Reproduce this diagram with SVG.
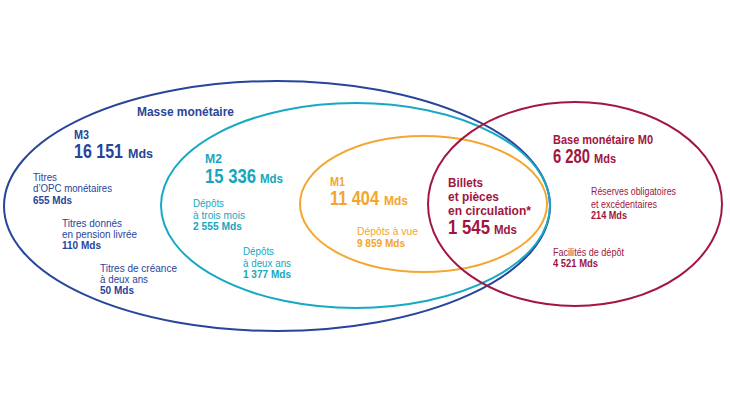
<svg xmlns="http://www.w3.org/2000/svg" width="730" height="410" viewBox="0 0 730 410">
<style>
text{font-family:"Liberation Sans",Arial,sans-serif;font-size:10px}
.b{font-weight:bold}
.h{font-size:13px;font-weight:bold}
.big{font-size:19.5px;font-weight:bold}
.md{font-size:12.5px;font-weight:bold}
.ring{fill:none;stroke-width:2}
.blue{fill:#27459b}.cyan{fill:#17a6c0}.orange{fill:#f4a52a}.red{fill:#a0163f}
</style>
<rect width="730" height="410" fill="#fff"/>
<g id="m3">
<ellipse class="ring" cx="277" cy="206" rx="273" ry="125" stroke="#27459b"/>
<g class="blue">
<text class="h" x="137" y="116" textLength="97" lengthAdjust="spacingAndGlyphs">Masse monétaire</text>
<text class="h" x="74" y="139" textLength="15" lengthAdjust="spacingAndGlyphs">M3</text>
<text class="big" x="74" y="158" textLength="49" lengthAdjust="spacingAndGlyphs">16 151</text>
<text class="md" x="128" y="158" textLength="25" lengthAdjust="spacingAndGlyphs">Mds</text>
<text x="33" y="181" textLength="24" lengthAdjust="spacingAndGlyphs">Titres</text>
<text x="33" y="192" textLength="79" lengthAdjust="spacingAndGlyphs">d’OPC monétaires</text>
<text class="b" x="33" y="204" textLength="39" lengthAdjust="spacingAndGlyphs">655 Mds</text>
<text x="62" y="227" textLength="60" lengthAdjust="spacingAndGlyphs">Titres donnés</text>
<text x="62" y="238" textLength="75" lengthAdjust="spacingAndGlyphs">en pension livrée</text>
<text class="b" x="62" y="249" textLength="39" lengthAdjust="spacingAndGlyphs">110 Mds</text>
<text x="100" y="272" textLength="77" lengthAdjust="spacingAndGlyphs">Titres de créance</text>
<text x="100" y="283" textLength="48" lengthAdjust="spacingAndGlyphs">à deux ans</text>
<text class="b" x="100" y="294" textLength="34" lengthAdjust="spacingAndGlyphs">50 Mds</text>
</g>
</g>
<g id="m2">
<ellipse class="ring" cx="355.5" cy="205.5" rx="194.5" ry="102.5" stroke="#17a9c3"/>
<g class="cyan">
<text class="h" x="205" y="163" textLength="17" lengthAdjust="spacingAndGlyphs">M2</text>
<text class="big" x="205" y="183" textLength="51" lengthAdjust="spacingAndGlyphs">15 336</text>
<text class="md" x="260" y="183" textLength="23" lengthAdjust="spacingAndGlyphs">Mds</text>
<text x="193" y="207" textLength="31" lengthAdjust="spacingAndGlyphs">Dépôts</text>
<text x="193" y="219" textLength="52" lengthAdjust="spacingAndGlyphs">à trois mois</text>
<text class="b" x="193" y="230" textLength="49" lengthAdjust="spacingAndGlyphs">2 555 Mds</text>
<text x="243" y="255" textLength="31" lengthAdjust="spacingAndGlyphs">Dépôts</text>
<text x="243" y="267" textLength="48" lengthAdjust="spacingAndGlyphs">à deux ans</text>
<text class="b" x="243" y="278" textLength="48" lengthAdjust="spacingAndGlyphs">1 377 Mds</text>
</g>
</g>
<g id="m1">
<ellipse class="ring" cx="423.5" cy="204" rx="123.5" ry="68" stroke="#f5a630"/>
<g class="orange">
<text class="h" x="330" y="186" textLength="15" lengthAdjust="spacingAndGlyphs">M1</text>
<text class="big" x="330" y="205" textLength="49" lengthAdjust="spacingAndGlyphs">11 404</text>
<text class="md" x="384" y="205" textLength="24" lengthAdjust="spacingAndGlyphs">Mds</text>
<text x="357" y="235" textLength="61" lengthAdjust="spacingAndGlyphs">Dépôts à vue</text>
<text class="b" x="357" y="247" textLength="48" lengthAdjust="spacingAndGlyphs">9 859 Mds</text>
</g>
</g>
<g id="m0">
<ellipse class="ring" cx="575" cy="204" rx="147" ry="102" stroke="#a3173f"/>
<g class="red">
<text class="md" x="448" y="187" textLength="35" lengthAdjust="spacingAndGlyphs">Billets</text>
<text class="md" x="448" y="201" textLength="51" lengthAdjust="spacingAndGlyphs">et pièces</text>
<text class="md" x="448" y="215" textLength="83" lengthAdjust="spacingAndGlyphs">en circulation*</text>
<text class="big" x="448" y="234" textLength="42" lengthAdjust="spacingAndGlyphs">1 545</text>
<text class="md" x="494" y="234" textLength="23" lengthAdjust="spacingAndGlyphs">Mds</text>
<text class="md" x="553" y="144" textLength="100" lengthAdjust="spacingAndGlyphs">Base monétaire M0</text>
<text class="big" x="553" y="163" textLength="37" lengthAdjust="spacingAndGlyphs">6 280</text>
<text class="md" x="594" y="163" textLength="22" lengthAdjust="spacingAndGlyphs">Mds</text>
<text x="591" y="195" textLength="85" lengthAdjust="spacingAndGlyphs">Réserves obligatoires</text>
<text x="591" y="208" textLength="66" lengthAdjust="spacingAndGlyphs">et excédentaires</text>
<text class="b" x="591" y="219" textLength="36" lengthAdjust="spacingAndGlyphs">214 Mds</text>
<text x="553" y="256" textLength="71" lengthAdjust="spacingAndGlyphs">Facilités de dépôt</text>
<text class="b" x="553" y="267" textLength="45" lengthAdjust="spacingAndGlyphs">4 521 Mds</text>
</g>
</g>
</svg>
